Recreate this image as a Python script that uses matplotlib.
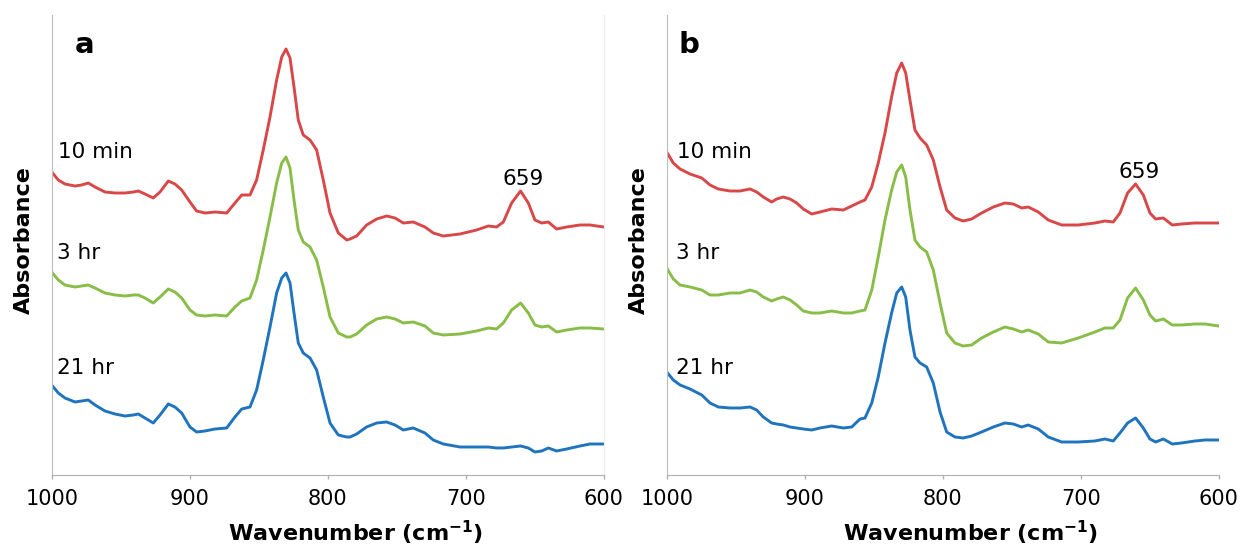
import matplotlib.pyplot as plt
import numpy as np

plt.rcParams['font.family'] = ['DejaVu Sans']

# wavenumbers (cm-1), panel a and panel b
wn_a = [1000.0, 995.2, 990.4, 983.1, 978.3, 973.5, 968.6, 961.4, 954.1, 946.9,
        940.8, 937.2, 932.4, 926.4, 921.5, 915.5, 910.7, 905.8, 899.8, 895.0,
        888.9, 881.7, 873.2, 867.2, 862.3,
        856.3, 851.5, 846.7, 841.8, 837.0, 833.3, 830.2, 827.3, 824.4, 821.3,
        817.7, 812.8, 808.0, 803.2, 798.3, 792.3, 786.2,
        783.8, 779.0, 771.8, 764.5, 757.3, 751.2, 745.2, 738.0, 729.5,
        723.5, 716.2, 704.1, 692.1, 683.6, 677.6, 672.7, 666.7, 660.2, 654.6,
        649.8, 644.9, 640.1, 634.1, 626.8, 617.2, 609.9, 600.0]

a_10min = [3.03, 2.95, 2.91, 2.89, 2.90, 2.92, 2.88, 2.83, 2.82, 2.82,
           2.83, 2.84, 2.81, 2.77, 2.83, 2.94, 2.91, 2.85, 2.73, 2.64,
           2.62, 2.63, 2.62, 2.72, 2.80,
           2.80, 2.95, 3.25, 3.58, 3.95, 4.18, 4.26, 4.17, 3.88, 3.55,
           3.40, 3.35, 3.25, 2.95, 2.62, 2.42, 2.35,
           2.36, 2.39, 2.50, 2.56, 2.59, 2.57, 2.52, 2.53, 2.48,
           2.42, 2.39, 2.41, 2.45, 2.49, 2.48, 2.53, 2.72, 2.84, 2.72,
           2.55, 2.52, 2.53, 2.46, 2.48, 2.50, 2.50, 2.48]
a_3hr = [2.03, 1.95, 1.90, 1.88, 1.89, 1.90, 1.87, 1.82, 1.80, 1.79,
         1.80, 1.80, 1.77, 1.72, 1.78, 1.86, 1.83, 1.77, 1.65, 1.60,
         1.59, 1.60, 1.59, 1.68, 1.74,
         1.77, 1.95, 2.25, 2.58, 2.92, 3.12, 3.18, 3.07, 2.75, 2.45,
         2.33, 2.28, 2.15, 1.88, 1.58, 1.42, 1.38,
         1.38, 1.41, 1.50, 1.56, 1.58, 1.56, 1.52, 1.53, 1.49,
         1.42, 1.40, 1.41, 1.44, 1.47, 1.46, 1.52, 1.65, 1.72, 1.62,
         1.50, 1.48, 1.49, 1.43, 1.45, 1.47, 1.47, 1.46]
a_21hr = [0.90, 0.82, 0.77, 0.73, 0.74, 0.75, 0.70, 0.64, 0.61, 0.59,
          0.60, 0.61, 0.57, 0.52, 0.60, 0.71, 0.68, 0.62, 0.48, 0.43,
          0.44, 0.46, 0.47, 0.58, 0.66,
          0.68, 0.85, 1.15, 1.48, 1.82, 1.97, 2.02, 1.92, 1.62, 1.32,
          1.22, 1.17, 1.05, 0.78, 0.52, 0.40, 0.38,
          0.38, 0.41, 0.48, 0.52, 0.53, 0.50, 0.45, 0.47, 0.42,
          0.35, 0.31, 0.28, 0.28, 0.28, 0.27, 0.27, 0.28, 0.29, 0.27,
          0.23, 0.24, 0.27, 0.24, 0.26, 0.29, 0.31, 0.31]

wn_b = [1000.0, 995.2, 990.3, 983.1, 974.6, 968.6, 962.6, 954.1, 946.9, 939.6,
        934.8, 930.0, 923.9, 920.3, 915.5, 910.6, 905.8, 901.0, 894.9, 888.9,
        880.4, 872.0, 865.9, 859.9,
        856.3, 851.4, 846.7, 841.8, 837.0, 833.3, 829.7, 826.8, 823.7, 820.1,
        816.4, 811.6, 806.8, 801.9, 797.1, 791.1, 785.1,
        779.0, 771.8, 763.3, 754.9, 748.8, 742.8, 738.0, 730.7,
        723.5, 713.8, 701.7, 689.7, 682.4, 676.4, 671.5, 666.0, 660.2, 654.6,
        649.8, 645.7, 640.1, 633.6, 626.9, 617.2, 609.9, 600.0]

b_10min = [3.23, 3.12, 3.06, 3.01, 2.97, 2.90, 2.86, 2.84, 2.84, 2.86,
           2.83, 2.78, 2.73, 2.76, 2.78, 2.76, 2.72, 2.66, 2.61, 2.63,
           2.66, 2.65, 2.69, 2.73,
           2.75, 2.88, 3.12, 3.42, 3.78, 4.02, 4.12, 4.02, 3.75, 3.45,
           3.37, 3.30, 3.15, 2.88, 2.65, 2.57, 2.54,
           2.56, 2.62, 2.68, 2.72, 2.71, 2.67, 2.68, 2.63,
           2.55, 2.50, 2.50, 2.52, 2.54, 2.53, 2.62, 2.82, 2.91, 2.80,
           2.62, 2.56, 2.57, 2.50, 2.51, 2.52, 2.52, 2.52]
b_3hr = [2.07, 1.96, 1.90, 1.88, 1.85, 1.80, 1.80, 1.82, 1.82, 1.85,
         1.83, 1.78, 1.74, 1.76, 1.78, 1.75, 1.70, 1.64, 1.62, 1.62,
         1.64, 1.62, 1.62, 1.64,
         1.65, 1.85, 2.18, 2.55, 2.85, 3.03, 3.10, 2.98, 2.65, 2.35,
         2.28, 2.23, 2.05, 1.72, 1.42, 1.32, 1.29,
         1.30, 1.37, 1.43, 1.48, 1.46, 1.43, 1.45, 1.41,
         1.33, 1.32, 1.37, 1.43, 1.47, 1.47, 1.55, 1.77, 1.87, 1.75,
         1.60, 1.54, 1.56, 1.50, 1.50, 1.51, 1.51, 1.49]
b_21hr = [1.03, 0.95, 0.90, 0.86, 0.80, 0.72, 0.68, 0.67, 0.67, 0.68,
          0.65, 0.58, 0.52, 0.51, 0.50, 0.48, 0.47, 0.46, 0.45, 0.47,
          0.49, 0.47, 0.48, 0.56,
          0.57, 0.72, 0.98, 1.32, 1.62, 1.82, 1.88, 1.78, 1.45, 1.18,
          1.12, 1.08, 0.92, 0.63, 0.43, 0.38, 0.37,
          0.39, 0.43, 0.48, 0.52, 0.51, 0.48, 0.50, 0.46,
          0.38, 0.33, 0.33, 0.34, 0.36, 0.34, 0.42, 0.52, 0.57, 0.47,
          0.36, 0.33, 0.36, 0.31, 0.32, 0.34, 0.35, 0.35]

labels = ['10 min', '3 hr', '21 hr']
colors = ['#D94848', '#88BD47', '#1F74BD']
xticks = [1000, 900, 800, 700, 600]

fig = plt.figure(figsize=(12.44, 5.46), dpi=100)

panels = [
    (0.04156, 'a', wn_a, [a_10min, a_3hr, a_21hr]),
    (0.53593, 'b', wn_b, [b_10min, b_3hr, b_21hr]),
]

for left, letter, wn, series in panels:
    ax = fig.add_axes([left, 0.13004, 0.4437, 0.84249])
    for y, c in zip(series, colors):
        ax.plot(wn, y, color=c, lw=2.1, solid_joinstyle='round',
                solid_capstyle='round')
    ax.set_xlim(1000, 600)
    ax.set_ylim(0, 4.6)
    ax.set_xticks(xticks)
    ax.set_yticks([])
    ax.tick_params(axis='x', direction='out', length=3, width=1,
                   color='#b0b0b0', labelsize=15, pad=7)
    ax.spines['top'].set_visible(False)
    ax.spines['left'].set_color('#bdbdbd')
    ax.spines['bottom'].set_color('#b0b0b0')
    if letter == 'a':
        ax.spines['right'].set_color('#ececec')
    else:
        ax.spines['right'].set_visible(False)

    # curve labels
    if letter == 'a':
        lx = [995.4, 996.4, 996.4]
        px659 = 658.5
        by659 = 2.90
        lx_letter = 975.9
    else:
        lx = [992.8, 993.3, 993.3]
        px659 = 657.4
        by659 = 2.967
        lx_letter = 983.8
    for t, x, yb in zip(labels, lx, [3.17, 2.16, 1.01]):
        ax.text(x, yb, t, fontsize=15.5, ha='left', va='baseline')
    ax.text(px659, by659, '659', fontsize=15.5, ha='center', va='baseline')
    ax.text(lx_letter, 4.22, letter, fontsize=21, fontweight='bold',
            ha='center', va='baseline')

    xc = (left + 0.4437 / 2) + 0.0227
    fig.text(xc, 0.0092, 'Wavenumber (cm$^{\\mathbf{-1}}$)', fontsize=16,
             fontweight='bold', ha='center', va='baseline')
    fig.text(left - 0.0226, 0.56, 'Absorbance', fontsize=16, fontweight='bold',
             rotation=90, ha='center', va='center')

fig.savefig('out.png', dpi=100)
